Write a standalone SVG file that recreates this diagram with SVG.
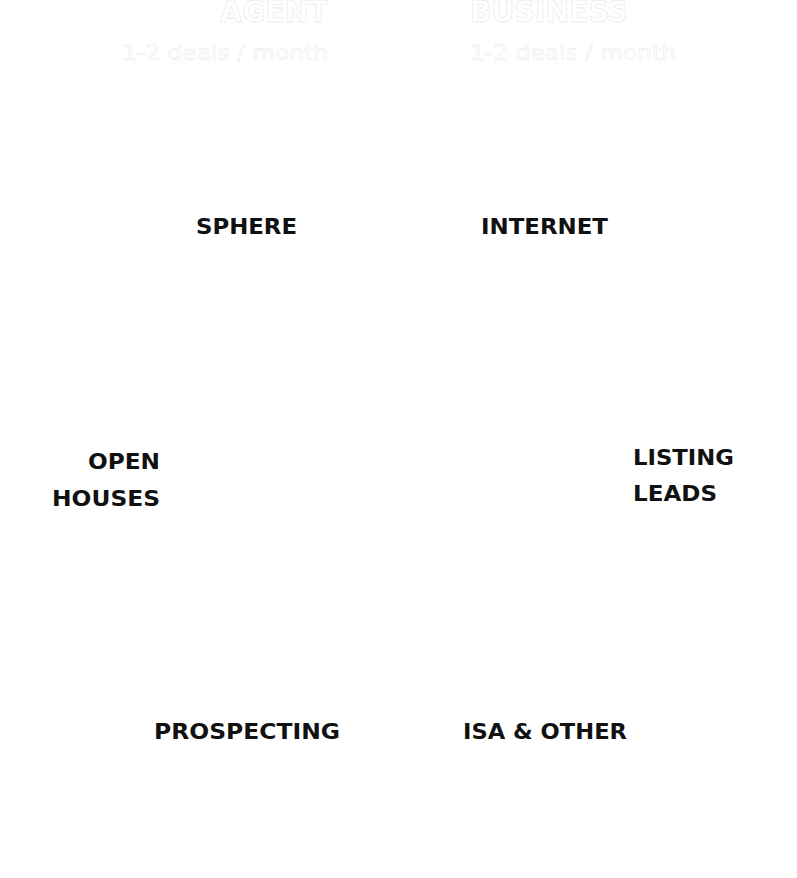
<svg xmlns="http://www.w3.org/2000/svg" width="797" height="878" viewBox="0 0 797 878">
<style>
.h{font-family:"DejaVu Sans","Liberation Sans",sans-serif;font-weight:bold;fill:#fff;stroke:#ececec;stroke-width:0.8}
.s{font-family:"DejaVu Sans","Liberation Sans",sans-serif;fill:#fff;stroke:#ececec;stroke-width:0.6}
.l{font-family:"DejaVu Sans","Liberation Sans",sans-serif;font-weight:bold;font-size:22px;fill:#111}
</style>
<rect width="797" height="878" fill="#fff"/>
<g id="header">
<text class="h" x="220" y="22" font-size="31" textLength="108" lengthAdjust="spacingAndGlyphs">AGENT</text>
<text class="s" x="122" y="60" font-size="22" textLength="206" lengthAdjust="spacingAndGlyphs">1-2 deals / month</text>
<text class="h" x="470" y="22" font-size="31" textLength="158" lengthAdjust="spacingAndGlyphs">BUSINESS</text>
<text class="s" x="470" y="60" font-size="22" textLength="206" lengthAdjust="spacingAndGlyphs">1-2 deals / month</text>
</g>
<g id="sphere"><text class="l" x="196" y="234" textLength="101" lengthAdjust="spacingAndGlyphs">SPHERE</text></g>
<g id="internet"><text class="l" x="481" y="234" textLength="127" lengthAdjust="spacingAndGlyphs">INTERNET</text></g>
<g id="open-houses">
<text class="l" x="88" y="469" textLength="72" lengthAdjust="spacingAndGlyphs">OPEN</text>
<text class="l" x="52" y="506" textLength="108" lengthAdjust="spacingAndGlyphs">HOUSES</text>
</g>
<g id="listing-leads">
<text class="l" x="633" y="465" textLength="101" lengthAdjust="spacingAndGlyphs">LISTING</text>
<text class="l" x="633" y="501" textLength="84" lengthAdjust="spacingAndGlyphs">LEADS</text>
</g>
<g id="prospecting"><text class="l" x="154" y="739" textLength="186" lengthAdjust="spacingAndGlyphs">PROSPECTING</text></g>
<g id="isa"><text class="l" x="463" y="739" textLength="164" lengthAdjust="spacingAndGlyphs">ISA &amp; OTHER</text></g>
<g id="connectors"/>
</svg>
